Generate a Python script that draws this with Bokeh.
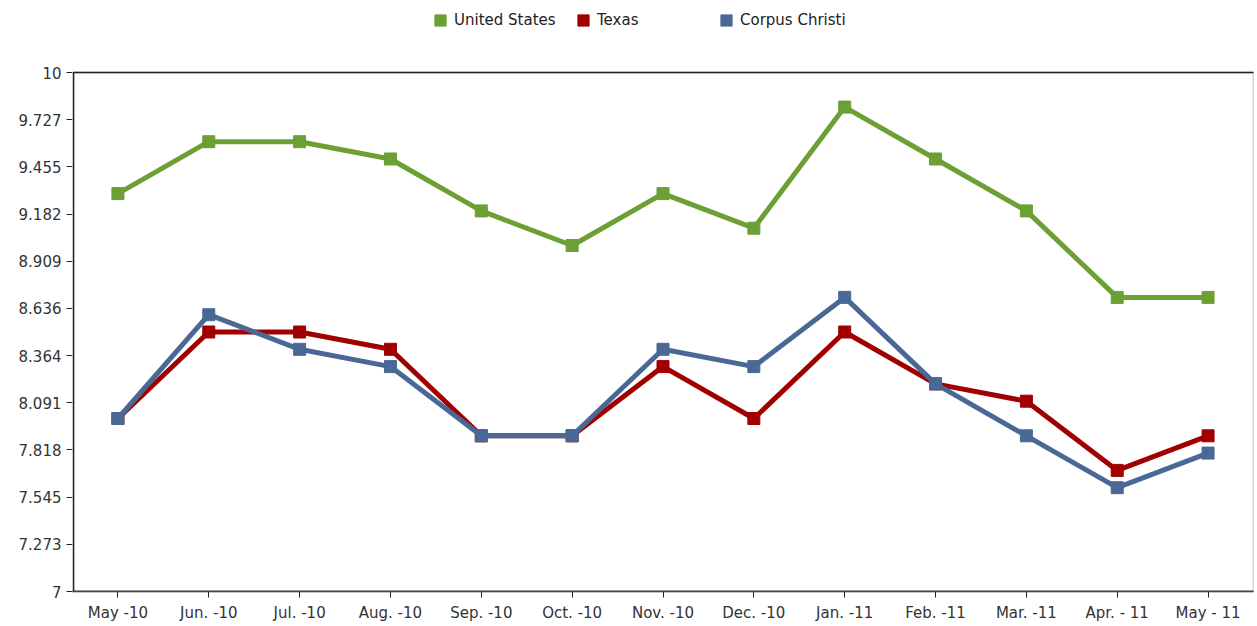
from bokeh.plotting import figure
from bokeh.models import FactorRange, Range1d, FixedTicker, Legend, LegendItem, BoxAnnotation
from bokeh.embed import file_html
from bokeh.resources import INLINE

months = ["May -10", "Jun. -10", "Jul. -10", "Aug. -10", "Sep. -10", "Oct. -10",
          "Nov. -10", "Dec. -10", "Jan. -11", "Feb. -11", "Mar. -11", "Apr. - 11", "May - 11"]
united_states = [9.3, 9.6, 9.6, 9.5, 9.2, 9.0, 9.3, 9.1, 9.8, 9.5, 9.2, 8.7, 8.7]
texas = [8.0, 8.5, 8.5, 8.4, 7.9, 7.9, 8.3, 8.0, 8.5, 8.2, 8.1, 7.7, 7.9]
corpus_christi = [8.0, 8.6, 8.4, 8.3, 7.9, 7.9, 8.4, 8.3, 8.7, 8.2, 7.9, 7.6, 7.8]
y_ticks = [7, 7.273, 7.545, 7.818, 8.091, 8.364, 8.636, 8.909, 9.182, 9.455, 9.727, 10]
y_tick_labels = ["7", "7.273", "7.545", "7.818", "8.091", "8.364", "8.636", "8.909",
                 "9.182", "9.455", "9.727", "10"]
y_min, y_max = 7, 10

series = [
    ("United States", united_states, "#6c9f34"),
    ("Texas", texas, "#a00000"),
    ("Corpus Christi", corpus_christi, "#4a6896"),
]

FONT = "DejaVu Sans"
W, H = 1256, 624
TOP_PAD = 72          # pixels above the plot area reserved for the legend
FRAME_BOTTOM = 591    # pixel row of the x axis
area_px = FRAME_BOTTOM - TOP_PAD
y_top = y_max + (y_max - y_min) * TOP_PAD / area_px

p = figure(x_range=FactorRange(factors=months, range_padding=0),
           y_range=Range1d(y_min, y_top),
           width=W, height=H,
           min_border_left=72, min_border_top=0, min_border_right=3,
           min_border_bottom=H - FRAME_BOTTOM,
           output_backend="svg", toolbar_location=None,
           background_fill_color="white", border_fill_color="white")

p.xgrid.visible = False
p.ygrid.visible = False
p.outline_line_color = None

# light outline of the plot area (visible on the right side)
p.add_layout(BoxAnnotation(top=y_max, bottom=y_min, fill_color=None, fill_alpha=0,
                           line_color="#b4b4b4", line_alpha=1, line_width=1.5))
# dark top / left borders; right edge pushed past the frame
p.add_layout(BoxAnnotation(top=y_max, bottom=y_min, left=0.012, right=len(months) + 0.2,
                           fill_color=None, fill_alpha=0,
                           line_color="#222222", line_alpha=1, line_width=1.5))

items = []
for name, vals, col in series:
    p.line(months, vals, line_color=col, line_width=5)
    r = p.scatter(months, vals, marker="square", size=12, fill_color=col, line_color=col)
    items.append(LegendItem(label=name, renderers=[r]))

legend = Legend(items=items, orientation="horizontal", location=(354, area_px + 38),
                glyph_width=28, glyph_height=28, label_standoff=0, label_width=115,
                spacing=0, padding=0, margin=0,
                label_text_font=FONT, label_text_font_size="15px", label_text_color="#222222",
                border_line_color=None, background_fill_alpha=0)
p.add_layout(legend)

p.yaxis.ticker = FixedTicker(ticks=y_ticks)
p.yaxis.major_label_overrides = {t: l for t, l in zip(y_ticks, y_tick_labels)}
p.yaxis.axis_line_color = None
for ax in (p.xaxis, p.yaxis):
    ax.major_tick_line_color = "#222222"
    ax.major_tick_in = 0
    ax.major_tick_out = 6
    ax.minor_tick_line_color = None
    ax.major_label_text_font = FONT
    ax.major_label_text_font_size = "15px"
    ax.major_label_text_color = "#333333"
    ax.major_label_standoff = 5
p.xaxis.axis_line_color = "#222222"
p.xaxis.axis_line_width = 1.5
p.xaxis.major_label_standoff = 6

open("out.html", "w").write(file_html(p, INLINE))
